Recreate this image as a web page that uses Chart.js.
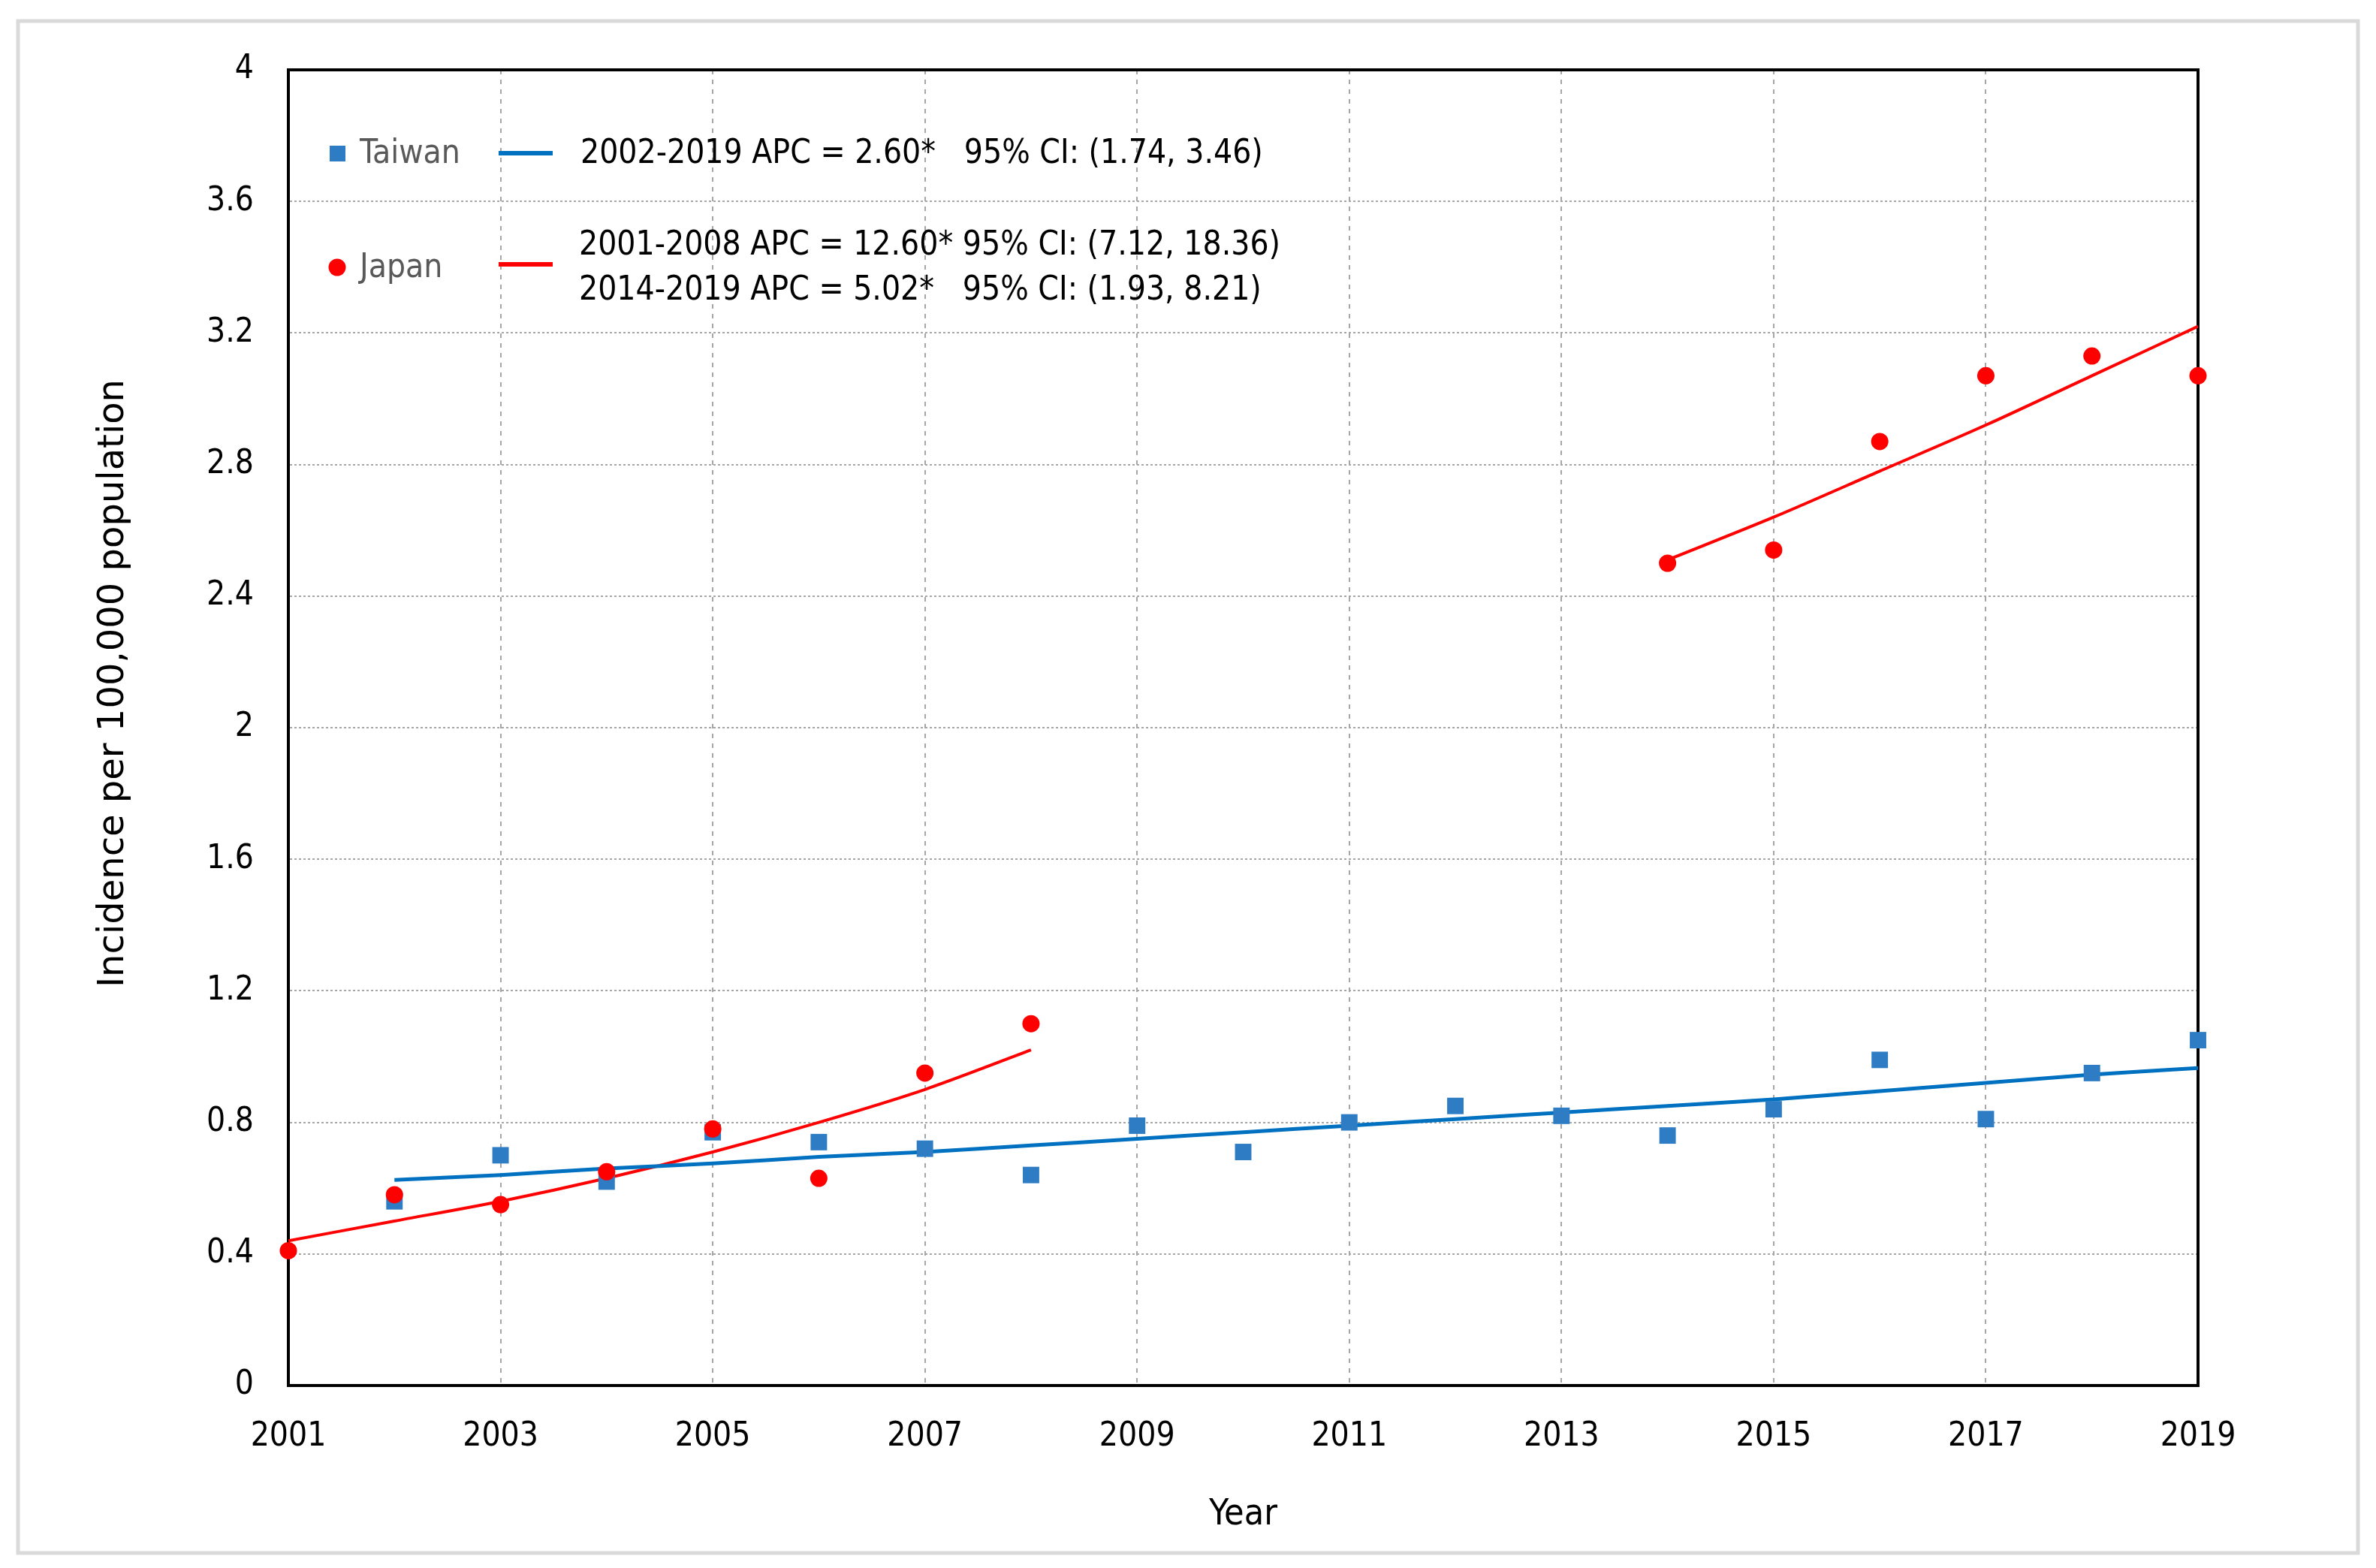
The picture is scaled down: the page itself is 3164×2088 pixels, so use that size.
<!DOCTYPE html>
<html>
<head>
<meta charset="utf-8">
<script src="https://cdn.jsdelivr.net/npm/chart.js@4.4.0/dist/chart.umd.min.js"></script>
<style>
html, body { margin: 0; padding: 0; background: #fff; }
canvas { display: block; }
</style>
</head>
<body>
<canvas id="chart" width="3164" height="2088"></canvas>
<script>
// observed incidence (per 100,000)
const taiwanYears = [2002, 2003, 2004, 2005, 2006, 2007, 2008, 2009, 2010, 2011, 2012, 2013, 2014, 2015, 2016, 2017, 2018, 2019];
const taiwanValues = [0.56, 0.70, 0.62, 0.77, 0.74, 0.72, 0.64, 0.79, 0.71, 0.80, 0.85, 0.82, 0.76, 0.84, 0.99, 0.81, 0.95, 1.05];
const japanYears = [2001, 2002, 2003, 2004, 2005, 2006, 2007, 2008, 2014, 2015, 2016, 2017, 2018, 2019];
const japanValues = [0.41, 0.58, 0.55, 0.65, 0.78, 0.63, 0.95, 1.10, 2.50, 2.54, 2.87, 3.07, 3.13, 3.07];

// joinpoint fitted lines
const taiwanTrend = [0.625, 0.64, 0.66, 0.675, 0.695, 0.71, 0.73, 0.75, 0.77, 0.79, 0.81, 0.83, 0.85, 0.87, 0.895, 0.92, 0.945, 0.965];
const japanEarlyYears = [2001, 2002, 2003, 2004, 2005, 2006, 2007, 2008];
const japanEarlyTrend = [0.44, 0.50, 0.56, 0.63, 0.71, 0.80, 0.90, 1.02];
const japanLateYears = [2014, 2015, 2016, 2017, 2018, 2019];
const japanLateTrend = [2.51, 2.64, 2.78, 2.92, 3.07, 3.22];

const taiwanLegend = ['2002-2019 APC = 2.60*   95% CI: (1.74, 3.46)'];
const japanLegend = ['2001-2008 APC = 12.60* 95% CI: (7.12, 18.36)', '2014-2019 APC = 5.02*   95% CI: (1.93, 8.21)'];
const yTitle = 'Incidence per 100,000 population';

const narrow = "'Liberation Sans Narrow', 'DejaVu Sans Condensed', 'Arial Narrow', sans-serif";
const wide = "'DejaVu Sans', Verdana, sans-serif";
const blueMark = '#2e7dc4';
const blueLine = '#0070c0';
const red = '#ff0000';

const pts = (xs, ys) => xs.map((x, i) => ({ x: x, y: ys[i] }));

const frame = {
    id: 'frame',
    beforeDraw(chart) {
        const ctx = chart.ctx;
        ctx.save();
        ctx.fillStyle = '#fff';
        ctx.fillRect(0, 0, chart.width, chart.height);
        ctx.strokeStyle = '#d9d9d9';
        ctx.lineWidth = 5;
        ctx.strokeRect(24, 28, 3116, 2040);
        ctx.restore();
    },
    beforeDatasetsDraw(chart) {
        const a = chart.chartArea;
        const ctx = chart.ctx;
        ctx.save();
        ctx.strokeStyle = '#000';
        ctx.lineWidth = 4;
        ctx.strokeRect(a.left, a.top, a.right - a.left, a.bottom - a.top);
        ctx.restore();
    },
    afterDraw(chart) {
        const a = chart.chartArea;
        const ctx = chart.ctx;
        ctx.save();

        // y axis title, sits a little above centre like the original
        ctx.save();
        ctx.translate(152, 910);
        ctx.rotate(-Math.PI / 2);
        ctx.textAlign = 'center';
        ctx.textBaseline = 'middle';
        ctx.fillStyle = '#000';
        ctx.font = '48px ' + wide;
        ctx.fillText(yTitle, 0, 0);
        ctx.restore();

        ctx.textBaseline = 'middle';
        ctx.textAlign = 'left';

        // Taiwan
        ctx.fillStyle = blueMark;
        ctx.fillRect(a.left + 55, a.top + 101, 21, 21);
        ctx.fillStyle = '#595959';
        ctx.font = '44px ' + narrow;
        ctx.fillText('Taiwan', a.left + 95, a.top + 113);
        ctx.strokeStyle = blueLine;
        ctx.lineWidth = 6;
        ctx.beginPath();
        ctx.moveTo(a.left + 280, a.top + 111);
        ctx.lineTo(a.left + 352, a.top + 111);
        ctx.stroke();
        ctx.fillStyle = '#000';
        taiwanLegend.forEach((t, i) => ctx.fillText(t, a.left + 389, a.top + 113 + i * 60));

        // Japan
        ctx.fillStyle = red;
        ctx.beginPath();
        ctx.arc(a.left + 65, a.top + 263, 11.5, 0, Math.PI * 2);
        ctx.fill();
        ctx.fillStyle = '#595959';
        ctx.fillText('Japan', a.left + 95, a.top + 265);
        ctx.strokeStyle = red;
        ctx.beginPath();
        ctx.moveTo(a.left + 280, a.top + 259);
        ctx.lineTo(a.left + 352, a.top + 259);
        ctx.stroke();
        ctx.fillStyle = '#000';
        japanLegend.forEach((t, i) => ctx.fillText(t, a.left + 387, a.top + 235 + i * 60));
        ctx.restore();
    }
};

new Chart(document.getElementById('chart'), {
    type: 'scatter',
    data: {
        datasets: [
            {
                label: 'Japan',
                data: pts(japanYears, japanValues),
                pointStyle: 'circle',
                pointRadius: 11.5,
                backgroundColor: red,
                borderWidth: 0,
                clip: false
            },
            {
                label: 'Taiwan',
                data: pts(taiwanYears, taiwanValues),
                pointStyle: 'rect',
                pointRadius: 15.5,
                backgroundColor: blueMark,
                borderWidth: 0,
                clip: false
            },
            {
                type: 'line',
                label: 'Taiwan trend',
                data: pts(taiwanYears, taiwanTrend),
                borderColor: blueLine,
                borderWidth: 5,
                pointRadius: 0,
                tension: 0.3,
                fill: false
            },
            {
                type: 'line',
                label: 'Japan trend 2001-2008',
                data: pts(japanEarlyYears, japanEarlyTrend),
                borderColor: red,
                borderWidth: 4,
                pointRadius: 0,
                tension: 0.3,
                fill: false
            },
            {
                type: 'line',
                label: 'Japan trend 2014-2019',
                data: pts(japanLateYears, japanLateTrend),
                borderColor: red,
                borderWidth: 4,
                pointRadius: 0,
                tension: 0.3,
                fill: false
            }
        ]
    },
    options: {
        responsive: false,
        devicePixelRatio: 1,
        animation: false,
        layout: { padding: { left: 110, right: 237, top: 93, bottom: 30 } },
        plugins: { legend: { display: false }, tooltip: { enabled: false } },
        scales: {
            x: {
                type: 'linear',
                min: 2001,
                max: 2019,
                ticks: {
                    stepSize: 2,
                    padding: 42,
                    color: '#000',
                    font: { family: narrow, size: 44 },
                    callback: v => String(v)
                },
                grid: { color: '#a6a6a6', lineWidth: 2, drawTicks: false },
                border: { display: true, color: '#000', width: 4, dash: [6, 7] },
                title: {
                    display: true,
                    text: 'Year',
                    color: '#000',
                    font: { family: narrow, size: 48 },
                    padding: { top: 0, bottom: 12 }
                },
                afterFit: s => { s.height = 2088 - 1845 - 30; }
            },
            y: {
                min: 0,
                max: 4,
                ticks: {
                    stepSize: 0.4,
                    padding: 46,
                    color: '#000',
                    font: { family: narrow, size: 44 },
                    callback: v => String(Number(v.toFixed(1)))
                },
                grid: { color: '#a6a6a6', lineWidth: 2, drawTicks: false },
                border: { display: true, color: '#000', width: 4, dash: [3, 3] },
                afterFit: s => { s.width = 384 - 110; }
            }
        }
    },
    plugins: [frame]
});
</script>
</body>
</html>
